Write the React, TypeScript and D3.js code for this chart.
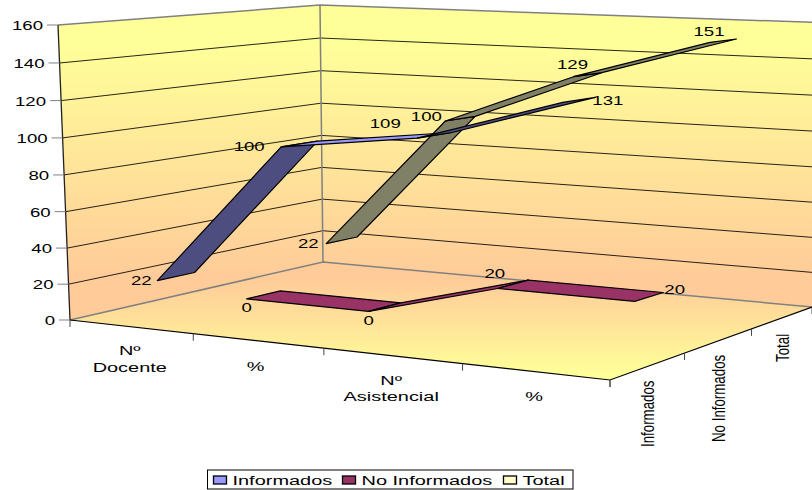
import React from "react";
import * as d3 from "d3";

const categories = ["Nº|Docente", "%", "Nº|Asistencial", "%"];
const seriesNames = ["Informados", "No Informados", "Total"];
const informados = [22, 100, 109, 131];
const noInformados = [0, 0, 20, 20];
const total = [22, 100, 129, 151];
const seriesValues = [informados, noInformados, total];
const yTicks = [0, 20, 40, 60, 80, 100, 120, 140, 160];
const lightColors = ["#9999FF", "#993366", "#FFFFCC"];
const darkColors = ["#4D4D80", "#66223F", "#808066"];

const W = 812, H = 490;
type P = [number, number];
const A: P = [70, 320], B: P = [610, 380], D: P = [812, 307], C: P = [323, 262];
const Atop: P = [58, 25], Ctop: P = [320, 7];

function homography() {
  const dx1 = B[0] - D[0], dx2 = C[0] - D[0], sx = A[0] - B[0] + D[0] - C[0];
  const dy1 = B[1] - D[1], dy2 = C[1] - D[1], sy = A[1] - B[1] + D[1] - C[1];
  const det = dx1 * dy2 - dx2 * dy1;
  const g = (sx * dy2 - dx2 * sy) / det;
  const h = (dx1 * sy - sx * dy1) / det;
  return {
    a: [B[0] - A[0] + g * B[0], B[1] - A[1] + g * B[1], g],
    b: [C[0] - A[0] + h * C[0], C[1] - A[1] + h * C[1], h],
    o: [A[0], A[1], 1],
  };
}
const hg = homography();
const cHom = (() => {
  const hA = hg.o;
  const hC = [hg.o[0] + hg.b[0], hg.o[1] + hg.b[1], hg.o[2] + hg.b[2]];
  const r1 = Atop[0] * hA[2] - hA[0];
  const r2 = Ctop[0] * hC[2] - hC[0];
  const cw = (r1 - r2) / (Ctop[0] - Atop[0]);
  const cu = r1 + Atop[0] * cw;
  const cv = Atop[1] * (hA[2] + cw) - hA[1];
  return [cu, cv, cw];
})();

const xW = d3.scaleLinear().domain([0, 4]).range([0, 1]);
const zW = d3.scaleLinear().domain([0, 3]).range([0, 1]);
const yW = d3.scaleLinear().domain([0, 160]).range([0, 1]);

function proj(x: number, z: number, y: number): P {
  const X = xW(x), Z = zW(z), Y = yW(y);
  const v = [0, 1, 2].map((i) => hg.o[i] + X * hg.a[i] + Z * hg.b[i] + Y * cHom[i]);
  return [v[0] / v[2], v[1] / v[2]];
}
const poly = (pts: P[]) => pts.map((p) => p[0].toFixed(1) + "," + p[1].toFixed(1)).join(" ");
const area = (pts: P[]) => d3.polygonArea(pts);

const RIB = 0.41;

function Txt({ x, y, rot, anchor, children, sx }: any) {
  const t = `translate(${x},${y}) scale(${sx || 1.4},1)` + (rot ? ` rotate(${rot})` : "");
  return (
    <text transform={t} textAnchor={anchor || "middle"} fontFamily="'Liberation Sans', Arial, sans-serif" fontSize={13.3} fill="#000">
      {children}
    </text>
  );
}

const seriesLabelPos = [
  { x: 654, y: 447 },
  { x: 725, y: 442 },
  { x: 789, y: 362 },
];
const catLabelDy = [[28, 45], [30, 30], [29, 45], [29, 29]];
const catLabelDx = [-1, -2, -1, -1];
const dataLabelOffset: P[][] = [
  [[-16, 4], [-32, 4], [-32, -10], [45, 3]],
  [[0, 13], [0, 14], [-3, -11], [40, -7]],
  [[-18, 4], [-19, 0], [-1, -8], [-1, -6]],
];

export default function App() {
  const grid = yTicks.map((t) => ({ t, a: proj(0, 0, t), c: proj(0, 3, t), d: proj(4, 3, t) }));
  const leftWall = [proj(0, 0, 0), proj(0, 3, 0), proj(0, 3, 160), proj(0, 0, 160)];
  const backWall = [proj(0, 3, 0), proj(4, 3, 0), proj(4, 3, 160), proj(0, 3, 160)];
  const floor = [proj(0, 0, 0), proj(4, 0, 0), proj(4, 3, 0), proj(0, 3, 0)];
  const order = [2, 1, 0];
  return (
    <svg width={W} height={H} viewBox={`0 0 ${W} ${H}`} style={{ position: "absolute", left: 0, top: 0, background: "#fff" }}>
      <defs>
        <linearGradient id="wall" gradientUnits="userSpaceOnUse" x1="0" y1="45" x2="0" y2="275">
          <stop offset="0" stopColor="#FFFF99" />
          <stop offset="1" stopColor="#FFCC99" />
        </linearGradient>
        <linearGradient id="floor" gradientUnits="userSpaceOnUse" x1="0" y1="280" x2="0" y2="375">
          <stop offset="0" stopColor="#FFCC99" />
          <stop offset="1" stopColor="#FFFF99" />
        </linearGradient>
      </defs>
      <polygon points={poly(leftWall)} fill="url(#wall)" />
      <polygon points={poly(backWall)} fill="url(#wall)" />
      <polygon points={poly(floor)} fill="url(#floor)" />
      {grid.slice(1, -1).map((g) => (
        <polyline key={g.t} points={poly([g.a, g.c, g.d])} fill="none" stroke="#000" strokeWidth={1} opacity={0.85} />
      ))}
      <polyline points={poly([proj(0, 0, 160), proj(0, 3, 160), proj(4, 3, 160)])} fill="none" stroke="#808080" strokeWidth={1.5} />
      <line x1={proj(0, 3, 0)[0]} y1={proj(0, 3, 0)[1]} x2={proj(0, 3, 160)[0]} y2={proj(0, 3, 160)[1]} stroke="#808080" strokeWidth={1.5} />
      <polyline points={poly([proj(0, 0, 0), proj(0, 3, 0), proj(4, 3, 0)])} fill="none" stroke="#808080" strokeWidth={1.5} />
      <line x1={A[0]} y1={A[1]} x2={Atop[0]} y2={Atop[1]} stroke="#222" strokeWidth={1.3} />
      <polyline points={poly([A, B, D])} fill="none" stroke="#000" strokeWidth={1.2} />

      {yTicks.map((t) => {
        const p = proj(0, 0, t);
        return (
          <g key={t}>
            <line x1={p[0] - 11} y1={p[1]} x2={p[0]} y2={p[1]} stroke="#808080" />
            <Txt x={p[0] - 15} y={p[1] + 5} anchor="end">{t}</Txt>
          </g>
        );
      })}
      {d3.range(0, 5).map((i) => {
        const p = proj(i, 0, 0);
        return <line key={i} x1={p[0]} y1={p[1]} x2={p[0]} y2={p[1] + 7} stroke="#444" />;
      })}
      {d3.range(0, 4).map((i) => {
        const p = proj(4, i, 0);
        return <line key={i} x1={p[0]} y1={p[1]} x2={p[0]} y2={p[1] + 7} stroke="#444" />;
      })}
      {categories.map((c, i) => {
        const p = proj(i + 0.5, 0, 0);
        const parts = c.split("|");
        return parts.map((s, k) => (
          <Txt key={i + "-" + k} x={p[0] + catLabelDx[i]} y={p[1] + catLabelDy[i][k]} sx={1.5}>{s}</Txt>
        ));
      })}
      {seriesNames.map((s, i) => (
        <Txt key={s} x={seriesLabelPos[i].x} y={seriesLabelPos[i].y} rot={-90} anchor="start">{s}</Txt>
      ))}

      {order.map((s) => {
        const vals = seriesValues[s];
        const z0 = s + 0.5 - RIB / 2, z1 = s + 0.5 + RIB / 2;
        return (
          <g key={s}>
            {vals.slice(0, -1).map((v, i) => {
              const pts: P[] = [proj(i + 0.5, z0, v), proj(i + 1.5, z0, vals[i + 1]), proj(i + 1.5, z1, vals[i + 1]), proj(i + 0.5, z1, v)];
              const top = area(pts) > 0;
              return <polygon key={i} points={poly(pts)} fill={top ? lightColors[s] : darkColors[s]} stroke="#000" strokeWidth={1.2} strokeLinejoin="round" />;
            })}
          </g>
        );
      })}
      {seriesValues.map((vals, s) =>
        vals.map((v, i) => {
          const p = proj(i + 0.5, s + 0.5 - RIB / 2, v);
          const o = dataLabelOffset[s][i];
          return <Txt key={s + "-" + i} x={p[0] + o[0]} y={p[1] + o[1]}>{v}</Txt>;
        })
      )}

      <rect x={207.5} y={470} width={365.5} height={19} fill="#fff" stroke="#000" strokeWidth={1} />
      {seriesNames.map((s, i) => {
        const sx = [213.5, 342.5, 503.5][i];
        return (
          <g key={s}>
            <rect x={sx} y={476} width={13} height={8} fill={lightColors[i]} stroke="#000" strokeWidth={1.3} />
            <Txt x={sx + 19} y={485} anchor="start" sx={1.5}>{s}</Txt>
          </g>
        );
      })}
    </svg>
  );
}
